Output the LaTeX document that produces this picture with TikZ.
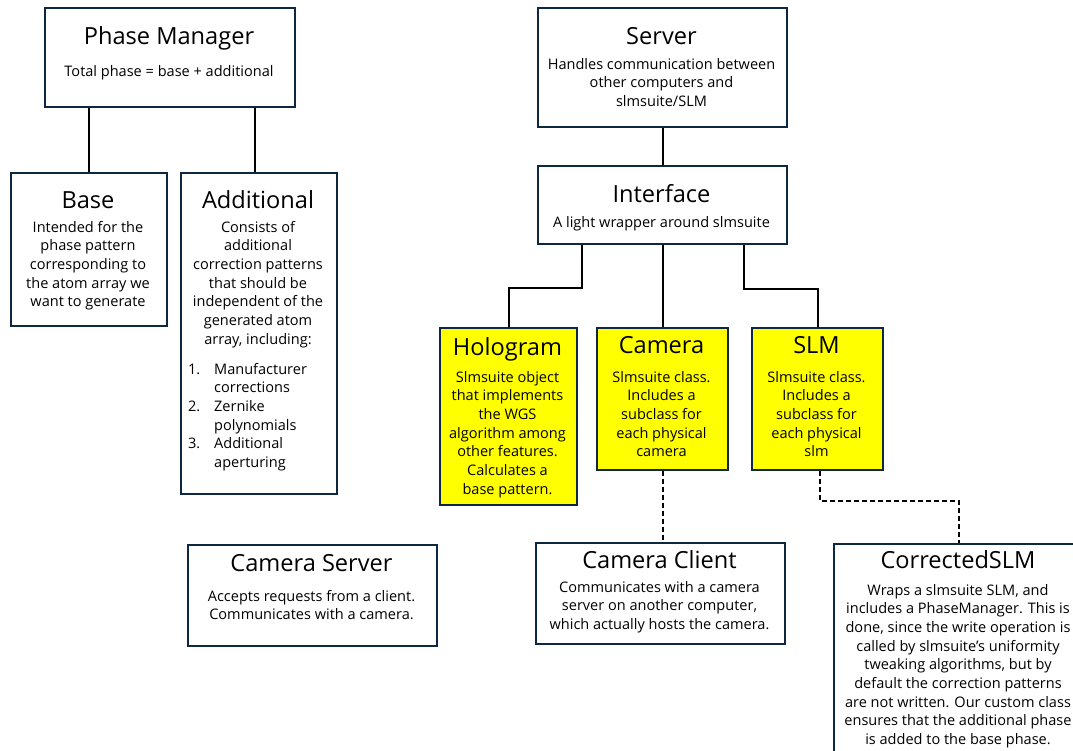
\documentclass[tikz,border=0pt]{standalone}
\usepackage{fontspec}
\setmainfont{Open Sans}
\definecolor{boxline}{HTML}{0E2841}
\definecolor{hlfill}{HTML}{FFFF00}
\newcommand{\cblock}[1]{\begin{tabular}[t]{@{}c@{}}#1\end{tabular}}
\tikzset{every picture/.style={line width=1.5pt},
  box/.style={draw=boxline, fill=white, anchor=north west, inner sep=0pt},
  hlbox/.style={box, fill=hlfill},
  link/.style={draw=black, line width=1.5pt},
  dashlink/.style={link, dash pattern={on 3.75pt off 2.25pt}},
  ttl/.style={anchor=base, inner sep=0pt, font=\fontsize{17.7}{22}\selectfont},
  txt/.style={anchor=base, inner sep=0pt, font=\fontsize{10.9}{14}\selectfont}}

\begin{document}
\begin{tikzpicture}[x=0.75pt,y=0.75pt,yscale=-1,xscale=1]
	\useasboundingbox (0,0) rectangle (1073,750);
	\clip (0,0) rectangle (1073,750);
	
	%Shape: Rectangle [Phase Manager]
	\node [box, minimum width=187.5pt, minimum height=74.25pt] (pm) at (44,7) {};
	%Shape: Rectangle [Base]
	\node [box, minimum width=117pt, minimum height=114.75pt] (base) at (10,172) {};
	%Shape: Rectangle [Additional]
	\node [box, minimum width=117pt, minimum height=240.75pt] (add) at (180,172) {};
	%Shape: Rectangle [Server]
	\node [box, minimum width=186.75pt, minimum height=89.25pt] (server) at (537,7) {};
	%Shape: Rectangle [Interface]
	\node [box, minimum width=186.75pt, minimum height=58.5pt] (iface) at (537,165) {};
	%Shape: Rectangle [Hologram]
	\node [hlbox, minimum width=102.75pt, minimum height=132.75pt] (holo) at (439,327) {};
	%Shape: Rectangle [Camera]
	\node [hlbox, minimum width=98.25pt, minimum height=106.5pt] (cam) at (596,327) {};
	%Shape: Rectangle [SLM]
	\node [hlbox, minimum width=98.25pt, minimum height=106.5pt] (slm) at (751,327) {};
	%Shape: Rectangle [Camera Server]
	\node [box, minimum width=186.75pt, minimum height=75.75pt] (camsrv) at (187,544) {};
	%Shape: Rectangle [Camera Client]
	\node [box, minimum width=186.75pt, minimum height=75.75pt] (camcli) at (535,542) {};
	%Shape: Rectangle [CorrectedSLM]
	\node [box, minimum width=187.5pt, minimum height=180pt] (cslm) at (833,543) {};
	
	%Straight Lines
	\draw [link] (pm.south -| base.north) -- (base.north) ;
	%Straight Lines
	\draw [link] ([xshift=-3pt]add.north |- pm.south) -- ([xshift=-3pt]add.north) ;
	%Straight Lines
	\draw [link] (server.south) -- (iface.north) ;
	%Straight Lines
	\draw [link] ([xshift=-60.4pt]iface.south) -- ++(0,43) -| (holo.north) ;
	%Straight Lines
	\draw [link] (iface.south) -- (cam.north) ;
	%Straight Lines
	\draw [link] ([xshift=61.1pt]iface.south) -- ++(0,44) -| (slm.north) ;
	%Straight Lines
	\draw [dashlink] (cam.south) -- (cam.south |- camcli.north) ;
	%Straight Lines
	\draw [dashlink] ([xshift=1.9pt]slm.south) -- ++(0,30) -| (cslm.north) ;
	
	% Text Node
	\node [ttl] (pmT) at (169,44) {Phase Manager};
	% Text Node
	\node [txt] (pmB) at (169,76) {Total phase = base + additional};
	% Text Node
	\node [ttl] (baseT) at (88,208) {Base};
	% Text Node
	\node [txt] (baseB) at (88,232) {\cblock{Intended for the\\phase pattern\\corresponding to\\the atom array we\\want to generate}};
	% Text Node
	\node [ttl] (addT) at (258,208) {Additional};
	% Text Node
	\node [txt] (addB) at (258,232) {\cblock{Consists of\\additional\\correction patterns\\that should be\\independent of the\\generated atom\\array, including:}};
	% Text Node
	\node [txt, anchor=base west] (addL) at (187,374) {\begin{tabular}[t]{@{}l@{\hspace{10.5pt}}l@{}}1. & Manufacturer\\ & corrections\\2. & Zernike\\ & polynomials\\3. & Additional\\ & aperturing\end{tabular}};
	% Text Node
	\node [ttl] (serverT) at (661.5,44) {Server};
	% Text Node
	\node [txt] (serverB) at (661.5,69) {\cblock{Handles communication between\\other computers and\\slmsuite/SLM}};
	% Text Node
	\node [ttl] (ifaceT) at (661.5,202) {Interface};
	% Text Node
	\node [txt] (ifaceB) at (661.5,227) {A light wrapper around slmsuite};
	% Text Node
	\node [ttl] (holoT) at (507.5,355) {Hologram};
	% Text Node
	\node [txt] (holoB) at (507.5,382) {\cblock{Slmsuite object\\that implements\\the WGS\\algorithm among\\other features.\\Calculates a\\base pattern.}};
	% Text Node
	\node [ttl] (camT) at (661.5,353) {Camera};
	% Text Node
	\node [txt] (camB) at (661.5,382) {\cblock{Slmsuite class.\\Includes a\\subclass for\\each physical\\camera}};
	% Text Node
	\node [ttl] (slmT) at (816.5,353) {SLM};
	% Text Node
	\node [txt] (slmB) at (816.5,382) {\cblock{Slmsuite class.\\Includes a\\subclass for\\each physical\\slm}};
	% Text Node
	\node [ttl] (camsrvT) at (311.5,571) {Camera Server};
	% Text Node
	\node [txt] (camsrvB) at (311.5,601) {\cblock{Accepts requests from a client.\\Communicates with a camera.}};
	% Text Node
	\node [ttl] (camcliT) at (659.5,568) {Camera Client};
	% Text Node
	\node [txt] (camcliB) at (659.5,592) {\cblock{Communicates with a camera\\server on another computer,\\which actually hosts the camera.}};
	% Text Node
	\node [ttl] (cslmT) at (958,568) {CorrectedSLM};
	% Text Node
	\node [txt] (cslmB) at (958,595) {\cblock{Wraps a slmsuite SLM, and\\includes a PhaseManager. This is\\done, since the write operation is\\called by slmsuite’s uniformity\\tweaking algorithms, but by\\default the correction patterns\\are not written. Our custom class\\ensures that the additional phase\\is added to the base phase.}};
	
\end{tikzpicture}
\end{document}
